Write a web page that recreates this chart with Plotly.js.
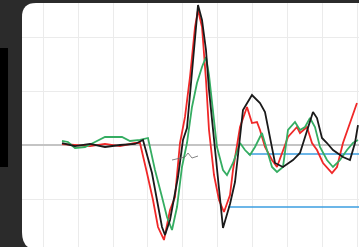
<!DOCTYPE html>
<html>
<head>
<meta charset="utf-8">
<script src="https://cdn.plot.ly/plotly-3.0.1.min.js"></script>
<style>
html,body{margin:0;padding:0;background:#2b2b2b;}
#chart{width:359px;height:247px;filter:blur(0.35px);}
</style>
</head>
<body>
<div id="chart"></div>
<script>
// time (ms) and amplitude
const blackX = [5.43,9.14,13.43,17.71,22.0,26.29,28.57,31.14,32.57,34.0,34.86,36.29,38.57,40.0,41.14,42.57,43.43,44.29,45.43,46.57,47.43,48.57,50.0,51.43,53.43,54.86,56.29,57.14,59.71,62.0,63.43,64.86,66.29,68.57,71.43,73.43,75.43,77.14,78.29,79.71,81.14,82.86,85.71,87.71,89.14,90.0];
const blackY = [0.37,-0.19,0.19,-0.37,0,0.19,0.93,-5.19,-10.19,-15.19,-16.67,-13.89,-5.93,0.93,3.15,13.33,20.74,25.93,23.15,17.6,10.2,2.78,-6.3,-15.37,-10.93,-6.85,1.48,6.48,9.26,7.78,6.11,1.48,-3.33,-4.07,-2.78,-1.48,2.78,6.11,5.0,1.30,0.37,-0.93,-2.22,-2.78,0.37,3.70];

const redX = [5.43,9.14,13.43,17.71,22.0,26.29,27.71,29.71,31.43,32.86,34.57,36.29,37.71,39.14,40.57,42.0,43.43,44.29,45.43,46.57,47.43,48.86,50.29,51.71,53.43,54.29,56.29,58.29,59.71,61.14,62.0,63.43,65.43,66.86,68.29,70.0,72.57,73.43,75.43,76.86,78.29,80.0,82.57,84.0,85.71,87.71,89.71];
const redY = [0.19,0,-0.19,0.19,-0.19,0.37,0.37,-5.19,-10.19,-15.19,-17.59,-12.04,-9.63,0.37,5.19,12.59,21.85,25.0,21.85,12.04,2.78,-5.56,-10.19,-12.41,-9.26,-4.63,3.33,7.04,4.07,4.26,2.78,-0.37,-2.78,-4.07,-1.48,1.48,3.33,2.22,3.33,0.37,-0.93,-3.33,-5.19,-4.07,0.37,4.07,7.78];

const greenX = [5.43,7.14,9.14,12.0,14.86,17.71,20.57,22.57,24.86,27.71,30.0,32.0,34.0,35.43,36.86,38.29,39.71,41.14,42.57,44.0,45.43,46.57,47.43,48.29,49.71,51.43,52.57,54.29,56.29,57.71,59.14,60.57,62.57,64.0,65.43,66.86,68.57,70.0,72.0,73.43,74.86,76.29,77.71,79.14,81.14,82.86,84.86,86.86,88.57,90.0];
const greenY = [0.74,0.56,-0.56,-0.37,0.56,1.48,1.48,1.48,0.74,0.93,1.30,-4.63,-9.63,-13.33,-15.74,-11.48,-4.07,0.37,7.04,11.48,14.44,16.30,12.96,8.33,-0.37,-4.63,-5.56,-3.33,0.37,-0.93,-1.85,-0.37,2.22,-0.93,-4.07,-5.0,-4.07,2.78,4.26,2.78,3.33,5.0,3.33,-0.37,-2.78,-4.07,-2.78,-0.93,0.37,0.93];

const markX = [36.86,39.14,40.57,41.43,42.57,44.29];
const markY = [-2.78,-2.41,-2.22,-1.48,-2.41,-2.04];

const level1X = [58.57,92];
const level1Y = [-1.67,-1.67];
const level2X = [52.86,92];
const level2Y = [-11.48,-11.48];

const traces = [
  {x: level2X, y: level2Y, mode:'lines', line:{color:'#3b9ee0', width:1.6}},
  {x: level1X, y: level1Y, mode:'lines', line:{color:'#3b9ee0', width:1.6}},
  {x: redX, y: redY, mode:'lines', line:{color:'#f02828', width:1.8}},
  {x: greenX, y: greenY, mode:'lines', line:{color:'#35ad62', width:1.8}},
  {x: blackX, y: blackY, mode:'lines', line:{color:'#1a1a1a', width:1.8}},
  {x: markX, y: markY, mode:'lines', line:{color:'#666666', width:0.8}}
];

const layout = {
  width: 359, height: 247,
  margin: {l:22, r:0, t:3, b:0, pad:0},
  paper_bgcolor: '#2b2b2b',
  plot_bgcolor: 'rgba(0,0,0,0)',
  showlegend: false,
  xaxis: {range:[-6, 90.29], tick0:0, dtick:10, showgrid:true, gridcolor:'#ebebeb', gridwidth:1,
          zeroline:false, showticklabels:false, ticks:'', showline:false, fixedrange:true},
  yaxis: {range:[-18.89, 26.3], tick0:0, dtick:10, showgrid:true, gridcolor:'#ebebeb', gridwidth:1,
          zeroline:true, zerolinecolor:'#c4c4c4', zerolinewidth:1.5,
          showticklabels:false, ticks:'', showline:false, fixedrange:true},
  shapes: [
    {type:'path', xref:'paper', yref:'paper', layer:'below',
     path:'M 0,0.0615 L 0,0.943 Q 0,1 0.0415,1 L 1.01,1 L 1.01,-0.01 L 0.0445,-0.01 Q 0,-0.01 0,0.0615 Z',
     fillcolor:'#ffffff', line:{width:0}},
    {type:'rect', xref:'paper', yref:'paper', layer:'below',
     x0:-0.0653, x1:-0.0415, y0:0.328, y1:0.8156, fillcolor:'#000000', line:{width:0}}
  ]
};

Plotly.newPlot('chart', traces, layout, {staticPlot:true, displayModeBar:false});
</script>
</body>
</html>
